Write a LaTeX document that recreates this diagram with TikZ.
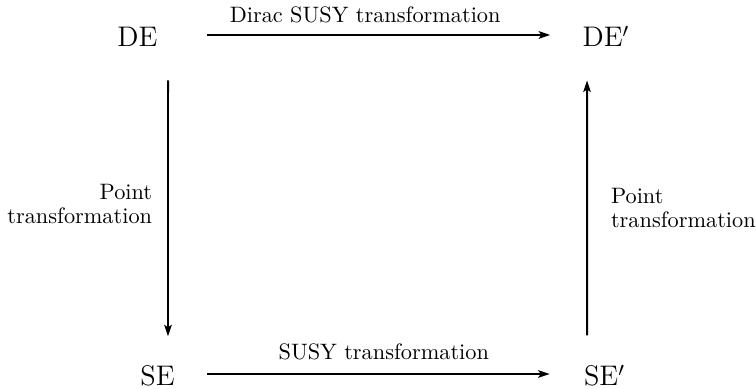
\documentclass[tikz,border=0pt]{standalone}
\usepackage{tikz}
\usetikzlibrary{arrows.meta, positioning, calc}

\begin{document}
\begin{tikzpicture}[
    x=0.4484pt, y=-0.4484pt,
    eqn/.style={inner sep=0pt, anchor=base, text height=10.76pt, text depth=0pt, font=\fontsize{12.7}{15}\selectfont},
    arrow/.style={-{Stealth[length=5.2pt, width=3.4pt, inset=1.2pt]}, line width=0.85pt},
    label/.style={font=\fontsize{10}{11}\selectfont}
]
    \useasboundingbox (0,0) rectangle (756,389);

    % Equations at the corners
    \node[eqn] (de)  at (137.5,47)  {DE};
    \node[eqn] (dep) at (606,47)    {DE$'$};
    \node[eqn] (se)  at (157.5,386) {SE};
    \node[eqn] (sep) at (604.5,386) {SE$'$};

    % Transformations
    \draw[arrow, shorten <=22pt, shorten >=14.3pt] (de.east) -- (dep.west)
        node[label, midway, above=1.6pt, xshift=-2.2pt] (dirac) {Dirac SUSY transformation};
    \draw[arrow, shorten <=14.3pt, shorten >=15.2pt] (se.east) -- (sep.west)
        node[label, midway, above=2.3pt, xshift=2pt] (susy) {SUSY transformation};
    \draw[arrow] ([xshift=13.7pt, yshift=-14.8pt]de.south) -- ([xshift=4.7pt, yshift=11.3pt]se.north)
        node[label, midway, left=3.4pt, yshift=2pt, align=right] (pointl) {Point\\transformation};
    \draw[arrow] ([xshift=-7.8pt, yshift=11.7pt]sep.north) -- ([xshift=-8.5pt, yshift=-14.8pt]dep.south)
        node[label, midway, right=7pt, align=left] (pointr) {Point\\transformation};

\end{tikzpicture}
\end{document}
